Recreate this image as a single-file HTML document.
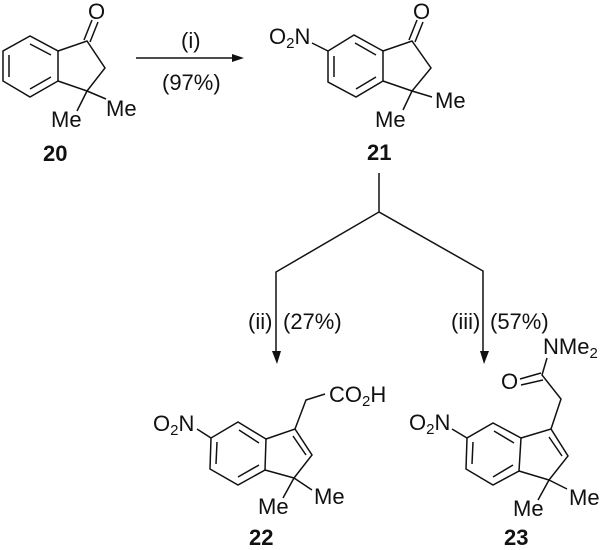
<!DOCTYPE html>
<html><head><meta charset="utf-8"><style>
html,body{margin:0;padding:0;background:#fff}
svg{display:block}
text{font-family:"Liberation Sans",Arial,sans-serif;font-size:22px;fill:#111}
.b{font-weight:bold}
.s{font-size:15px}
path{fill:none;stroke:#111;stroke-width:1.5;stroke-linejoin:miter}
polygon{fill:#111}
</style></head><body>
<svg width="601" height="550" viewBox="0 0 601 550" xmlns="http://www.w3.org/2000/svg">
<!-- 20 -->
<path d="M30 36L3 51V81L30 97L58 81V51ZM9 55V77M30 44L51 55M30 89L51 77"/>
<path d="M58 51L87 41L105 68L87 91L58 81M87 91L77 111M87 91L106 99M84 40L92 20M90 42L98 22"/>
<text x="88" y="19">O</text>
<text x="51" y="127">Me</text>
<text x="106" y="116">Me</text>
<text class="b" x="43" y="161">20</text>
<!-- arrow i -->
<path d="M136 58H236"/><polygon points="232,54 244,58 232,62"/>
<text x="181" y="48">(i)</text>
<text x="162" y="90">(97%)</text>
<!-- 21 -->
<path d="M354 35L328 51V82L356 97L383 81V51ZM334 56V77M355 43L376 55M356 89L376 77"/>
<path d="M383 51L412 41L431 68L412 91L403 110M412 91L383 81M412 91L432 97M409 40L417 20M415 42L423 22M312 43L328 51"/>
<text x="413" y="19">O</text>
<text x="269" y="44">O<tspan class="s" dy="4">2</tspan><tspan dy="-4">N</tspan></text>
<text x="375" y="127">Me</text>
<text x="435" y="108">Me</text>
<text class="b" x="367" y="160">21</text>
<!-- branching arrows -->
<path d="M379 173V212L276 272V356M379 212L483 271V356"/>
<polygon points="272,351 277,364 281,351"/>
<polygon points="480,351 484,364 489,351"/>
<text x="248" y="329">(ii)</text>
<text x="283" y="329">(27%)</text>
<text x="451" y="329">(iii)</text>
<text x="490" y="329">(57%)</text>
<!-- 22 -->
<path d="M238 422L211 438L210 469L238 485L265 470L266 439ZM217 442L216 464M239 430L259 443M238 477L259 465"/>
<path d="M266 439L295 429L312 455L294 478L265 470M294 478L283 498M294 478L312 490M293 436L306 455M295 429L306 400L325 394M197 429L211 438"/>
<text x="329" y="402">CO<tspan class="s" dy="4">2</tspan><tspan dy="-4">H</tspan></text>
<text x="153" y="431">O<tspan class="s" dy="4">2</tspan><tspan dy="-4">N</tspan></text>
<text x="258" y="514">Me</text>
<text x="314" y="504">Me</text>
<text class="b" x="249" y="545">22</text>
<!-- 23 -->
<path d="M493 423L467 438L466 469L493 485L519 471L521 438ZM473 442L472 464M494 431L514 443M493 477L513 465"/>
<path d="M521 438L551 429L568 456L549 480L519 471M549 480L538 500M549 480L567 489M549 437L562 456M551 429L561 399L542 375L547 358M520 379L541 373M521 385L543 380"/>
<text x="543" y="354">NMe<tspan class="s" dy="4">2</tspan></text>
<text x="501" y="389">O</text>
<text x="409" y="430">O<tspan class="s" dy="4">2</tspan><tspan dy="-4">N</tspan></text>
<path d="M452 429L467 438"/>
<text x="513" y="516">Me</text>
<text x="569" y="505">Me</text>
<text class="b" x="504" y="545">23</text>
</svg>
</body></html>
